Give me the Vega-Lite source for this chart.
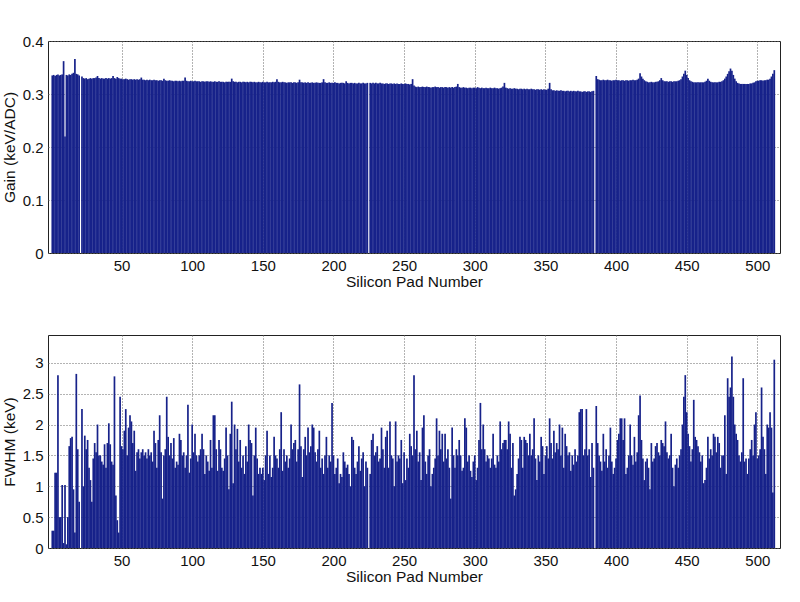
{
"$schema": "https://vega.github.io/schema/vega-lite/v6.json",
"padding": {"left": 1, "top": 33, "right": 5, "bottom": 5},
"spacing": 44,
"config": {
  "view": {"stroke": "#222", "strokeWidth": 1},
  "font": "Liberation Sans",
  "axis": {"labelFont": "Liberation Sans", "labelFontSize": 15, "labelColor": "#111", "titleFont": "Liberation Sans", "titleFontSize": 15.5, "titleFontWeight": "normal", "titleColor": "#111", "grid": true, "gridColor": "#666", "gridDash": [1, 2], "gridWidth": 1, "ticks": false, "domain": false, "labelPadding": 5, "titlePadding": 5},
  "axisX": {"titlePadding": 1}
},
"data": {"values": [
{"pad":1,"gain":0.335,"fwhm":0.28},{"pad":2,"gain":0.336,"fwhm":0.28},{"pad":3,"gain":0.334,"fwhm":1.22},{"pad":4,"gain":0.336,"fwhm":1.22},{"pad":5,"gain":0.337,"fwhm":2.8},{"pad":6,"gain":0.335,"fwhm":0.5},{"pad":7,"gain":0.336,"fwhm":0.5},{"pad":8,"gain":0.337,"fwhm":1.02},{"pad":9,"gain":0.362,"fwhm":0.08},{"pad":10,"gain":0.22,"fwhm":1.02},
{"pad":11,"gain":0.336,"fwhm":0.06},{"pad":12,"gain":0.335,"fwhm":0.5},{"pad":13,"gain":0.337,"fwhm":1.65},{"pad":14,"gain":0.336,"fwhm":1.78},{"pad":15,"gain":0.338,"fwhm":1.8},{"pad":16,"gain":0.340,"fwhm":0.95},{"pad":17,"gain":0.366,"fwhm":0.25},{"pad":18,"gain":0.338,"fwhm":2.82},{"pad":19,"gain":0.337,"fwhm":1.6},{"pad":20,"gain":0.335,"fwhm":0.75},
{"pad":21,"gain":0,"fwhm":0},{"pad":22,"gain":0.333,"fwhm":2.25},{"pad":23,"gain":0.330,"fwhm":1.0},{"pad":24,"gain":0.329,"fwhm":1.82},{"pad":25,"gain":0.330,"fwhm":1.6},{"pad":26,"gain":0.328,"fwhm":1.75},{"pad":27,"gain":0.329,"fwhm":1.3},{"pad":28,"gain":0.330,"fwhm":1.1},{"pad":29,"gain":0.329,"fwhm":0.75},{"pad":30,"gain":0.330,"fwhm":1.45},
{"pad":31,"gain":0.330,"fwhm":1.7},{"pad":32,"gain":0.331,"fwhm":1.55},{"pad":33,"gain":0.334,"fwhm":2.0},{"pad":34,"gain":0.330,"fwhm":1.5},{"pad":35,"gain":0.329,"fwhm":1.5},{"pad":36,"gain":0.330,"fwhm":1.4},{"pad":37,"gain":0.329,"fwhm":1.35},{"pad":38,"gain":0.329,"fwhm":1.68},{"pad":39,"gain":0.330,"fwhm":1.3},{"pad":40,"gain":0.329,"fwhm":1.7},
{"pad":41,"gain":0.330,"fwhm":2.02},{"pad":42,"gain":0.329,"fwhm":1.68},{"pad":43,"gain":0.330,"fwhm":1.4},{"pad":44,"gain":0.334,"fwhm":1.35},{"pad":45,"gain":0.330,"fwhm":2.78},{"pad":46,"gain":0.329,"fwhm":0.85},{"pad":47,"gain":0.332,"fwhm":0.45},{"pad":48,"gain":0.330,"fwhm":0.25},{"pad":49,"gain":0.329,"fwhm":2.45},{"pad":50,"gain":0.329,"fwhm":1.65},
{"pad":51,"gain":0.328,"fwhm":1.6},{"pad":52,"gain":0.328,"fwhm":1.9},{"pad":53,"gain":0.329,"fwhm":2.25},{"pad":54,"gain":0.328,"fwhm":1.5},{"pad":55,"gain":0.327,"fwhm":1.95},{"pad":56,"gain":0.328,"fwhm":2.15},{"pad":57,"gain":0.328,"fwhm":2.05},{"pad":58,"gain":0.327,"fwhm":1.7},{"pad":59,"gain":0.328,"fwhm":1.9},{"pad":60,"gain":0.327,"fwhm":1.25},
{"pad":61,"gain":0.328,"fwhm":1.55},{"pad":62,"gain":0.327,"fwhm":1.6},{"pad":63,"gain":0.328,"fwhm":1.45},{"pad":64,"gain":0.331,"fwhm":1.55},{"pad":65,"gain":0.327,"fwhm":1.6},{"pad":66,"gain":0.327,"fwhm":1.5},{"pad":67,"gain":0.326,"fwhm":1.55},{"pad":68,"gain":0.327,"fwhm":1.45},{"pad":69,"gain":0.326,"fwhm":1.6},{"pad":70,"gain":0.327,"fwhm":1.5},
{"pad":71,"gain":0.326,"fwhm":1.55},{"pad":72,"gain":0.326,"fwhm":1.4},{"pad":73,"gain":0.327,"fwhm":1.9},{"pad":74,"gain":0.326,"fwhm":1.7},{"pad":75,"gain":0.326,"fwhm":1.3},{"pad":76,"gain":0.325,"fwhm":1.75},{"pad":77,"gain":0.326,"fwhm":2.15},{"pad":78,"gain":0.326,"fwhm":1.55},{"pad":79,"gain":0.325,"fwhm":0.8},{"pad":80,"gain":0.329,"fwhm":1.5},
{"pad":81,"gain":0.326,"fwhm":1.6},{"pad":82,"gain":0.325,"fwhm":2.45},{"pad":83,"gain":0.325,"fwhm":1.8},{"pad":84,"gain":0.326,"fwhm":1.5},{"pad":85,"gain":0.325,"fwhm":1.7},{"pad":86,"gain":0.325,"fwhm":1.45},{"pad":87,"gain":0.324,"fwhm":1.78},{"pad":88,"gain":0.325,"fwhm":1.3},{"pad":89,"gain":0.325,"fwhm":1.4},{"pad":90,"gain":0.324,"fwhm":1.35},
{"pad":91,"gain":0.325,"fwhm":1.85},{"pad":92,"gain":0.324,"fwhm":1.75},{"pad":93,"gain":0.325,"fwhm":1.5},{"pad":94,"gain":0.325,"fwhm":1.55},{"pad":95,"gain":0.331,"fwhm":1.3},{"pad":96,"gain":0.325,"fwhm":1.5},{"pad":97,"gain":0.324,"fwhm":2.32},{"pad":98,"gain":0.324,"fwhm":1.22},{"pad":99,"gain":0.325,"fwhm":1.45},{"pad":100,"gain":0.324,"fwhm":2.0},
{"pad":101,"gain":0.324,"fwhm":1.55},{"pad":102,"gain":0.325,"fwhm":1.85},{"pad":103,"gain":0.324,"fwhm":1.5},{"pad":104,"gain":0.324,"fwhm":1.4},{"pad":105,"gain":0.324,"fwhm":1.5},{"pad":106,"gain":0.323,"fwhm":1.6},{"pad":107,"gain":0.324,"fwhm":1.85},{"pad":108,"gain":0.324,"fwhm":1.6},{"pad":109,"gain":0.323,"fwhm":1.2},{"pad":110,"gain":0.324,"fwhm":1.5},
{"pad":111,"gain":0.324,"fwhm":1.4},{"pad":112,"gain":0.323,"fwhm":1.25},{"pad":113,"gain":0.324,"fwhm":1.75},{"pad":114,"gain":0.323,"fwhm":1.3},{"pad":115,"gain":0.323,"fwhm":2.15},{"pad":116,"gain":0.324,"fwhm":2.15},{"pad":117,"gain":0.323,"fwhm":1.6},{"pad":118,"gain":0.323,"fwhm":1.25},{"pad":119,"gain":0.324,"fwhm":1.75},{"pad":120,"gain":0.323,"fwhm":1.6},
{"pad":121,"gain":0.323,"fwhm":1.3},{"pad":122,"gain":0.323,"fwhm":1.25},{"pad":123,"gain":0.322,"fwhm":1.45},{"pad":124,"gain":0.323,"fwhm":1.95},{"pad":125,"gain":0.323,"fwhm":1.5},{"pad":126,"gain":0.323,"fwhm":0.95},{"pad":127,"gain":0.323,"fwhm":1.85},{"pad":128,"gain":0.329,"fwhm":2.37},{"pad":129,"gain":0.324,"fwhm":1.05},{"pad":130,"gain":0.323,"fwhm":2.0},
{"pad":131,"gain":0.323,"fwhm":1.6},{"pad":132,"gain":0.322,"fwhm":1.93},{"pad":133,"gain":0.323,"fwhm":1.4},{"pad":134,"gain":0.323,"fwhm":1.75},{"pad":135,"gain":0.322,"fwhm":1.3},{"pad":136,"gain":0.323,"fwhm":1.5},{"pad":137,"gain":0.323,"fwhm":1.2},{"pad":138,"gain":0.322,"fwhm":1.65},{"pad":139,"gain":0.323,"fwhm":1.4},{"pad":140,"gain":0.322,"fwhm":2.0},
{"pad":141,"gain":0.323,"fwhm":1.75},{"pad":142,"gain":0.323,"fwhm":1.7},{"pad":143,"gain":0.322,"fwhm":0.85},{"pad":144,"gain":0.323,"fwhm":1.5},{"pad":145,"gain":0.322,"fwhm":1.95},{"pad":146,"gain":0.322,"fwhm":1.45},{"pad":147,"gain":0.323,"fwhm":1.2},{"pad":148,"gain":0.322,"fwhm":1.3},{"pad":149,"gain":0.322,"fwhm":1.2},{"pad":150,"gain":0.323,"fwhm":1.3},
{"pad":151,"gain":0.322,"fwhm":1.1},{"pad":152,"gain":0.322,"fwhm":1.5},{"pad":153,"gain":0.323,"fwhm":1.9},{"pad":154,"gain":0.322,"fwhm":1.2},{"pad":155,"gain":0.322,"fwhm":1.5},{"pad":156,"gain":0.322,"fwhm":1.15},{"pad":157,"gain":0.323,"fwhm":1.3},{"pad":158,"gain":0.322,"fwhm":1.8},{"pad":159,"gain":0.323,"fwhm":1.5},{"pad":160,"gain":0.328,"fwhm":1.45},
{"pad":161,"gain":0.323,"fwhm":1.3},{"pad":162,"gain":0.322,"fwhm":1.6},{"pad":163,"gain":0.322,"fwhm":2.2},{"pad":164,"gain":0.323,"fwhm":1.25},{"pad":165,"gain":0.322,"fwhm":1.6},{"pad":166,"gain":0.322,"fwhm":1.4},{"pad":167,"gain":0.321,"fwhm":1.5},{"pad":168,"gain":0.322,"fwhm":1.3},{"pad":169,"gain":0.322,"fwhm":1.45},{"pad":170,"gain":0.322,"fwhm":2.0},
{"pad":171,"gain":0.321,"fwhm":1.6},{"pad":172,"gain":0.322,"fwhm":1.7},{"pad":173,"gain":0.322,"fwhm":1.75},{"pad":174,"gain":0.321,"fwhm":1.4},{"pad":175,"gain":0.322,"fwhm":1.6},{"pad":176,"gain":0.327,"fwhm":2.65},{"pad":177,"gain":0.322,"fwhm":1.65},{"pad":178,"gain":0.322,"fwhm":1.15},{"pad":179,"gain":0.321,"fwhm":1.6},{"pad":180,"gain":0.322,"fwhm":1.8},
{"pad":181,"gain":0.321,"fwhm":1.5},{"pad":182,"gain":0.322,"fwhm":1.95},{"pad":183,"gain":0.321,"fwhm":1.55},{"pad":184,"gain":0.321,"fwhm":1.65},{"pad":185,"gain":0.322,"fwhm":2.0},{"pad":186,"gain":0.321,"fwhm":1.95},{"pad":187,"gain":0.321,"fwhm":1.55},{"pad":188,"gain":0.322,"fwhm":1.4},{"pad":189,"gain":0.321,"fwhm":1.6},{"pad":190,"gain":0.321,"fwhm":1.9},
{"pad":191,"gain":0.321,"fwhm":1.3},{"pad":192,"gain":0.322,"fwhm":1.45},{"pad":193,"gain":0.328,"fwhm":1.2},{"pad":194,"gain":0.322,"fwhm":1.5},{"pad":195,"gain":0.321,"fwhm":1.8},{"pad":196,"gain":0.321,"fwhm":1.3},{"pad":197,"gain":0.322,"fwhm":1.5},{"pad":198,"gain":0.321,"fwhm":1.4},{"pad":199,"gain":0.321,"fwhm":2.35},{"pad":200,"gain":0.321,"fwhm":1.5},
{"pad":201,"gain":0.322,"fwhm":1.2},{"pad":202,"gain":0.321,"fwhm":1.3},{"pad":203,"gain":0.321,"fwhm":1.45},{"pad":204,"gain":0.320,"fwhm":1.05},{"pad":205,"gain":0.321,"fwhm":1.2},{"pad":206,"gain":0.321,"fwhm":1.15},{"pad":207,"gain":0.321,"fwhm":1.55},{"pad":208,"gain":0.320,"fwhm":1.4},{"pad":209,"gain":0.324,"fwhm":1.3},{"pad":210,"gain":0.321,"fwhm":1.35},
{"pad":211,"gain":0.320,"fwhm":1.2},{"pad":212,"gain":0.321,"fwhm":1.0},{"pad":213,"gain":0.321,"fwhm":1.8},{"pad":214,"gain":0.320,"fwhm":1.75},{"pad":215,"gain":0.321,"fwhm":1.3},{"pad":216,"gain":0.320,"fwhm":1.2},{"pad":217,"gain":0.320,"fwhm":1.4},{"pad":218,"gain":0.321,"fwhm":1.65},{"pad":219,"gain":0.320,"fwhm":1.25},{"pad":220,"gain":0.320,"fwhm":1.45},
{"pad":221,"gain":0.321,"fwhm":1.55},{"pad":222,"gain":0.320,"fwhm":1.0},{"pad":223,"gain":0.320,"fwhm":1.4},{"pad":224,"gain":0.321,"fwhm":1.3},{"pad":225,"gain":0,"fwhm":0},{"pad":226,"gain":0.321,"fwhm":1.2},{"pad":227,"gain":0.320,"fwhm":1.75},{"pad":228,"gain":0.321,"fwhm":1.85},{"pad":229,"gain":0.320,"fwhm":1.5},{"pad":230,"gain":0.321,"fwhm":1.55},
{"pad":231,"gain":0.320,"fwhm":1.65},{"pad":232,"gain":0.320,"fwhm":1.4},{"pad":233,"gain":0.321,"fwhm":1.45},{"pad":234,"gain":0.320,"fwhm":1.95},{"pad":235,"gain":0.320,"fwhm":1.6},{"pad":236,"gain":0.319,"fwhm":1.3},{"pad":237,"gain":0.320,"fwhm":1.8},{"pad":238,"gain":0.320,"fwhm":1.9},{"pad":239,"gain":0.319,"fwhm":1.3},{"pad":240,"gain":0.320,"fwhm":2.05},
{"pad":241,"gain":0.320,"fwhm":1.5},{"pad":242,"gain":0.319,"fwhm":1.45},{"pad":243,"gain":0.320,"fwhm":1.0},{"pad":244,"gain":0.319,"fwhm":2.05},{"pad":245,"gain":0.320,"fwhm":1.4},{"pad":246,"gain":0.319,"fwhm":1.5},{"pad":247,"gain":0.319,"fwhm":1.45},{"pad":248,"gain":0.320,"fwhm":1.75},{"pad":249,"gain":0.319,"fwhm":1.05},{"pad":250,"gain":0.319,"fwhm":1.55},
{"pad":251,"gain":0.320,"fwhm":1.1},{"pad":252,"gain":0.319,"fwhm":1.45},{"pad":253,"gain":0.319,"fwhm":1.3},{"pad":254,"gain":0.318,"fwhm":1.85},{"pad":255,"gain":0.319,"fwhm":1.65},{"pad":256,"gain":0.328,"fwhm":1.5},{"pad":257,"gain":0.316,"fwhm":2.8},{"pad":258,"gain":0.314,"fwhm":1.6},{"pad":259,"gain":0.313,"fwhm":1.9},{"pad":260,"gain":0.314,"fwhm":1.4},
{"pad":261,"gain":0.313,"fwhm":1.55},{"pad":262,"gain":0.313,"fwhm":1.1},{"pad":263,"gain":0.314,"fwhm":1.95},{"pad":264,"gain":0.313,"fwhm":2.15},{"pad":265,"gain":0.313,"fwhm":1.4},{"pad":266,"gain":0.314,"fwhm":1.2},{"pad":267,"gain":0.313,"fwhm":1.5},{"pad":268,"gain":0.313,"fwhm":1.6},{"pad":269,"gain":0.312,"fwhm":1.0},{"pad":270,"gain":0.313,"fwhm":1.2},
{"pad":271,"gain":0.313,"fwhm":1.3},{"pad":272,"gain":0.314,"fwhm":1.45},{"pad":273,"gain":0.313,"fwhm":2.1},{"pad":274,"gain":0.313,"fwhm":1.5},{"pad":275,"gain":0.312,"fwhm":1.9},{"pad":276,"gain":0.313,"fwhm":1.6},{"pad":277,"gain":0.313,"fwhm":1.85},{"pad":278,"gain":0.312,"fwhm":1.4},{"pad":279,"gain":0.313,"fwhm":1.85},{"pad":280,"gain":0.313,"fwhm":1.45},
{"pad":281,"gain":0.312,"fwhm":1.6},{"pad":282,"gain":0.313,"fwhm":1.3},{"pad":283,"gain":0.312,"fwhm":0.8},{"pad":284,"gain":0.313,"fwhm":1.95},{"pad":285,"gain":0.312,"fwhm":1.5},{"pad":286,"gain":0.313,"fwhm":1.3},{"pad":287,"gain":0.314,"fwhm":1.6},{"pad":288,"gain":0.319,"fwhm":1.5},{"pad":289,"gain":0.313,"fwhm":1.75},{"pad":290,"gain":0.312,"fwhm":1.5},
{"pad":291,"gain":0.312,"fwhm":1.25},{"pad":292,"gain":0.313,"fwhm":1.3},{"pad":293,"gain":0.312,"fwhm":2.1},{"pad":294,"gain":0.312,"fwhm":1.95},{"pad":295,"gain":0.311,"fwhm":1.4},{"pad":296,"gain":0.312,"fwhm":1.5},{"pad":297,"gain":0.312,"fwhm":1.25},{"pad":298,"gain":0.311,"fwhm":1.15},{"pad":299,"gain":0.312,"fwhm":1.4},{"pad":300,"gain":0.312,"fwhm":1.5},
{"pad":301,"gain":0.311,"fwhm":1.1},{"pad":302,"gain":0.313,"fwhm":1.3},{"pad":303,"gain":0.312,"fwhm":1.75},{"pad":304,"gain":0.311,"fwhm":2.35},{"pad":305,"gain":0.312,"fwhm":1.6},{"pad":306,"gain":0.311,"fwhm":2.0},{"pad":307,"gain":0.311,"fwhm":1.6},{"pad":308,"gain":0.312,"fwhm":1.4},{"pad":309,"gain":0.311,"fwhm":1.5},{"pad":310,"gain":0.311,"fwhm":1.45},
{"pad":311,"gain":0.312,"fwhm":1.3},{"pad":312,"gain":0.311,"fwhm":1.45},{"pad":313,"gain":0.311,"fwhm":1.85},{"pad":314,"gain":0.312,"fwhm":1.35},{"pad":315,"gain":0.311,"fwhm":1.3},{"pad":316,"gain":0.311,"fwhm":1.5},{"pad":317,"gain":0.310,"fwhm":1.4},{"pad":318,"gain":0.311,"fwhm":2.05},{"pad":319,"gain":0.312,"fwhm":1.6},{"pad":320,"gain":0.314,"fwhm":1.7},
{"pad":321,"gain":0.321,"fwhm":1.75},{"pad":322,"gain":0.312,"fwhm":1.75},{"pad":323,"gain":0.311,"fwhm":1.6},{"pad":324,"gain":0.310,"fwhm":2.05},{"pad":325,"gain":0.311,"fwhm":1.85},{"pad":326,"gain":0.310,"fwhm":1.3},{"pad":327,"gain":0.310,"fwhm":1.7},{"pad":328,"gain":0.311,"fwhm":0.85},{"pad":329,"gain":0.310,"fwhm":0.95},{"pad":330,"gain":0.310,"fwhm":1.2},
{"pad":331,"gain":0.309,"fwhm":1.45},{"pad":332,"gain":0.310,"fwhm":1.8},{"pad":333,"gain":0.310,"fwhm":1.75},{"pad":334,"gain":0.309,"fwhm":1.3},{"pad":335,"gain":0.310,"fwhm":1.8},{"pad":336,"gain":0.309,"fwhm":1.75},{"pad":337,"gain":0.310,"fwhm":1.7},{"pad":338,"gain":0.309,"fwhm":1.5},{"pad":339,"gain":0.309,"fwhm":1.85},{"pad":340,"gain":0.310,"fwhm":1.5},
{"pad":341,"gain":0.309,"fwhm":1.6},{"pad":342,"gain":0.309,"fwhm":2.1},{"pad":343,"gain":0.308,"fwhm":1.45},{"pad":344,"gain":0.309,"fwhm":1.1},{"pad":345,"gain":0.309,"fwhm":1.5},{"pad":346,"gain":0.308,"fwhm":1.4},{"pad":347,"gain":0.309,"fwhm":1.8},{"pad":348,"gain":0.308,"fwhm":1.65},{"pad":349,"gain":0.309,"fwhm":1.2},{"pad":350,"gain":0.308,"fwhm":1.5},
{"pad":351,"gain":0.308,"fwhm":1.65},{"pad":352,"gain":0.310,"fwhm":1.45},{"pad":353,"gain":0.321,"fwhm":2.1},{"pad":354,"gain":0.309,"fwhm":1.7},{"pad":355,"gain":0.307,"fwhm":1.45},{"pad":356,"gain":0.307,"fwhm":1.9},{"pad":357,"gain":0.306,"fwhm":1.55},{"pad":358,"gain":0.307,"fwhm":1.7},{"pad":359,"gain":0.306,"fwhm":1.6},{"pad":360,"gain":0.306,"fwhm":2.0},
{"pad":361,"gain":0.307,"fwhm":1.5},{"pad":362,"gain":0.306,"fwhm":1.95},{"pad":363,"gain":0.306,"fwhm":1.3},{"pad":364,"gain":0.305,"fwhm":1.85},{"pad":365,"gain":0.306,"fwhm":1.65},{"pad":366,"gain":0.306,"fwhm":1.5},{"pad":367,"gain":0.305,"fwhm":1.55},{"pad":368,"gain":0.306,"fwhm":1.25},{"pad":369,"gain":0.305,"fwhm":1.5},{"pad":370,"gain":0.306,"fwhm":1.35},
{"pad":371,"gain":0.305,"fwhm":1.6},{"pad":372,"gain":0.305,"fwhm":1.4},{"pad":373,"gain":0.306,"fwhm":1.5},{"pad":374,"gain":0.305,"fwhm":2.2},{"pad":375,"gain":0.305,"fwhm":2.25},{"pad":376,"gain":0.304,"fwhm":2.25},{"pad":377,"gain":0.305,"fwhm":1.5},{"pad":378,"gain":0.305,"fwhm":1.6},{"pad":379,"gain":0.304,"fwhm":2.25},{"pad":380,"gain":0.305,"fwhm":1.5},
{"pad":381,"gain":0.305,"fwhm":1.6},{"pad":382,"gain":0.304,"fwhm":1.15},{"pad":383,"gain":0.305,"fwhm":1.7},{"pad":384,"gain":0.306,"fwhm":1.3},{"pad":385,"gain":0,"fwhm":0},{"pad":386,"gain":0.334,"fwhm":2.3},{"pad":387,"gain":0.328,"fwhm":1.7},{"pad":388,"gain":0.327,"fwhm":1.5},{"pad":389,"gain":0.326,"fwhm":1.4},{"pad":390,"gain":0.326,"fwhm":1.25},
{"pad":391,"gain":0.327,"fwhm":1.85},{"pad":392,"gain":0.326,"fwhm":1.4},{"pad":393,"gain":0.326,"fwhm":1.6},{"pad":394,"gain":0.327,"fwhm":1.3},{"pad":395,"gain":0.326,"fwhm":1.5},{"pad":396,"gain":0.326,"fwhm":1.95},{"pad":397,"gain":0.325,"fwhm":1.4},{"pad":398,"gain":0.326,"fwhm":1.2},{"pad":399,"gain":0.326,"fwhm":1.3},{"pad":400,"gain":0.327,"fwhm":1.45},
{"pad":401,"gain":0.326,"fwhm":1.75},{"pad":402,"gain":0.326,"fwhm":1.85},{"pad":403,"gain":0.325,"fwhm":2.1},{"pad":404,"gain":0.326,"fwhm":2.1},{"pad":405,"gain":0.326,"fwhm":1.75},{"pad":406,"gain":0.325,"fwhm":2.1},{"pad":407,"gain":0.326,"fwhm":1.2},{"pad":408,"gain":0.326,"fwhm":1.3},{"pad":409,"gain":0.325,"fwhm":1.5},{"pad":410,"gain":0.326,"fwhm":2.0},
{"pad":411,"gain":0.326,"fwhm":1.5},{"pad":412,"gain":0.327,"fwhm":1.35},{"pad":413,"gain":0.326,"fwhm":1.8},{"pad":414,"gain":0.326,"fwhm":1.4},{"pad":415,"gain":0.327,"fwhm":1.55},{"pad":416,"gain":0.329,"fwhm":2.15},{"pad":417,"gain":0.339,"fwhm":2.47},{"pad":418,"gain":0.333,"fwhm":1.75},{"pad":419,"gain":0.329,"fwhm":1.45},{"pad":420,"gain":0.326,"fwhm":1.1},
{"pad":421,"gain":0.324,"fwhm":1.4},{"pad":422,"gain":0.323,"fwhm":1.45},{"pad":423,"gain":0.322,"fwhm":1.3},{"pad":424,"gain":0.322,"fwhm":0.95},{"pad":425,"gain":0.323,"fwhm":1.7},{"pad":426,"gain":0.322,"fwhm":1.4},{"pad":427,"gain":0.322,"fwhm":1.45},{"pad":428,"gain":0.323,"fwhm":1.65},{"pad":429,"gain":0.323,"fwhm":1.7},{"pad":430,"gain":0.324,"fwhm":1.55},
{"pad":431,"gain":0.326,"fwhm":1.5},{"pad":432,"gain":0.330,"fwhm":1.75},{"pad":433,"gain":0.326,"fwhm":1.7},{"pad":434,"gain":0.324,"fwhm":1.65},{"pad":435,"gain":0.324,"fwhm":2.05},{"pad":436,"gain":0.324,"fwhm":1.55},{"pad":437,"gain":0.323,"fwhm":1.45},{"pad":438,"gain":0.324,"fwhm":1.5},{"pad":439,"gain":0.324,"fwhm":1.85},{"pad":440,"gain":0.323,"fwhm":1.3},
{"pad":441,"gain":0.324,"fwhm":1.0},{"pad":442,"gain":0.324,"fwhm":1.35},{"pad":443,"gain":0.324,"fwhm":1.45},{"pad":444,"gain":0.325,"fwhm":1.3},{"pad":445,"gain":0.326,"fwhm":1.5},{"pad":446,"gain":0.328,"fwhm":1.6},{"pad":447,"gain":0.333,"fwhm":2.0},{"pad":448,"gain":0.338,"fwhm":2.45},{"pad":449,"gain":0.344,"fwhm":2.8},{"pad":450,"gain":0.336,"fwhm":2.2},
{"pad":451,"gain":0.330,"fwhm":1.85},{"pad":452,"gain":0.326,"fwhm":1.65},{"pad":453,"gain":0.324,"fwhm":1.4},{"pad":454,"gain":0.323,"fwhm":1.6},{"pad":455,"gain":0.322,"fwhm":2.4},{"pad":456,"gain":0.322,"fwhm":1.8},{"pad":457,"gain":0.322,"fwhm":1.75},{"pad":458,"gain":0.322,"fwhm":1.65},{"pad":459,"gain":0.322,"fwhm":1.55},{"pad":460,"gain":0.322,"fwhm":1.4},
{"pad":461,"gain":0.322,"fwhm":1.5},{"pad":462,"gain":0.322,"fwhm":1.05},{"pad":463,"gain":0.323,"fwhm":1.1},{"pad":464,"gain":0.325,"fwhm":1.3},{"pad":465,"gain":0.329,"fwhm":1.8},{"pad":466,"gain":0.325,"fwhm":1.45},{"pad":467,"gain":0.323,"fwhm":1.6},{"pad":468,"gain":0.322,"fwhm":1.5},{"pad":469,"gain":0.322,"fwhm":1.85},{"pad":470,"gain":0.322,"fwhm":1.8},
{"pad":471,"gain":0.322,"fwhm":1.55},{"pad":472,"gain":0.322,"fwhm":1.8},{"pad":473,"gain":0.323,"fwhm":1.7},{"pad":474,"gain":0.323,"fwhm":1.3},{"pad":475,"gain":0.324,"fwhm":1.5},{"pad":476,"gain":0.326,"fwhm":1.5},{"pad":477,"gain":0.329,"fwhm":2.15},{"pad":478,"gain":0.333,"fwhm":1.2},{"pad":479,"gain":0.338,"fwhm":2.75},{"pad":480,"gain":0.343,"fwhm":2.45},
{"pad":481,"gain":0.348,"fwhm":2.6},{"pad":482,"gain":0.344,"fwhm":3.1},{"pad":483,"gain":0.336,"fwhm":2.45},{"pad":484,"gain":0.329,"fwhm":2.0},{"pad":485,"gain":0.324,"fwhm":1.85},{"pad":486,"gain":0.321,"fwhm":1.75},{"pad":487,"gain":0.320,"fwhm":1.5},{"pad":488,"gain":0.319,"fwhm":1.4},{"pad":489,"gain":0.319,"fwhm":1.55},{"pad":490,"gain":0.319,"fwhm":2.75},
{"pad":491,"gain":0.319,"fwhm":1.4},{"pad":492,"gain":0.319,"fwhm":1.45},{"pad":493,"gain":0.319,"fwhm":1.2},{"pad":494,"gain":0.319,"fwhm":1.45},{"pad":495,"gain":0.320,"fwhm":1.6},{"pad":496,"gain":0.320,"fwhm":1.75},{"pad":497,"gain":0.321,"fwhm":1.5},{"pad":498,"gain":0.322,"fwhm":2.0},{"pad":499,"gain":0.324,"fwhm":2.2},{"pad":500,"gain":0.325,"fwhm":1.45},
{"pad":501,"gain":0.325,"fwhm":1.5},{"pad":502,"gain":0.326,"fwhm":1.6},{"pad":503,"gain":0.326,"fwhm":2.6},{"pad":504,"gain":0.325,"fwhm":1.8},{"pad":505,"gain":0.326,"fwhm":1.6},{"pad":506,"gain":0.326,"fwhm":1.2},{"pad":507,"gain":0.327,"fwhm":2.0},{"pad":508,"gain":0.327,"fwhm":1.95},{"pad":509,"gain":0.329,"fwhm":2.2},{"pad":510,"gain":0.333,"fwhm":1.95},
{"pad":511,"gain":0.338,"fwhm":0.9},{"pad":512,"gain":0.345,"fwhm":3.05}
]},
"vconcat": [
  {
    "width": 732, "height": 212,
    "mark": {"type": "bar", "color": "#17228a", "size": 1.7, "clip": true},
    "encoding": {
      "x": {"field": "pad", "type": "quantitative", "scale": {"domain": [1.5, 512.5], "nice": false, "zero": false}, "axis": {"values": [50,100,150,200,250,300,350,400,450,500], "title": "Silicon Pad Number"}},
      "y": {"field": "gain", "type": "quantitative", "scale": {"domain": [0, 0.4], "nice": false}, "axis": {"values": [0,0.1,0.2,0.3,0.4], "format": "~g", "title": "Gain (keV/ADC)"}}
    }
  },
  {
    "width": 732, "height": 213,
    "mark": {"type": "bar", "color": "#17228a", "size": 1.7, "clip": true},
    "encoding": {
      "x": {"field": "pad", "type": "quantitative", "scale": {"domain": [1.5, 512.5], "nice": false, "zero": false}, "axis": {"values": [50,100,150,200,250,300,350,400,450,500], "title": "Silicon Pad Number"}},
      "y": {"field": "fwhm", "type": "quantitative", "scale": {"domain": [0, 3.45], "nice": false}, "axis": {"values": [0,0.5,1,1.5,2,2.5,3], "format": "~g", "title": "FWHM (keV)"}}
    }
  }
]
}
